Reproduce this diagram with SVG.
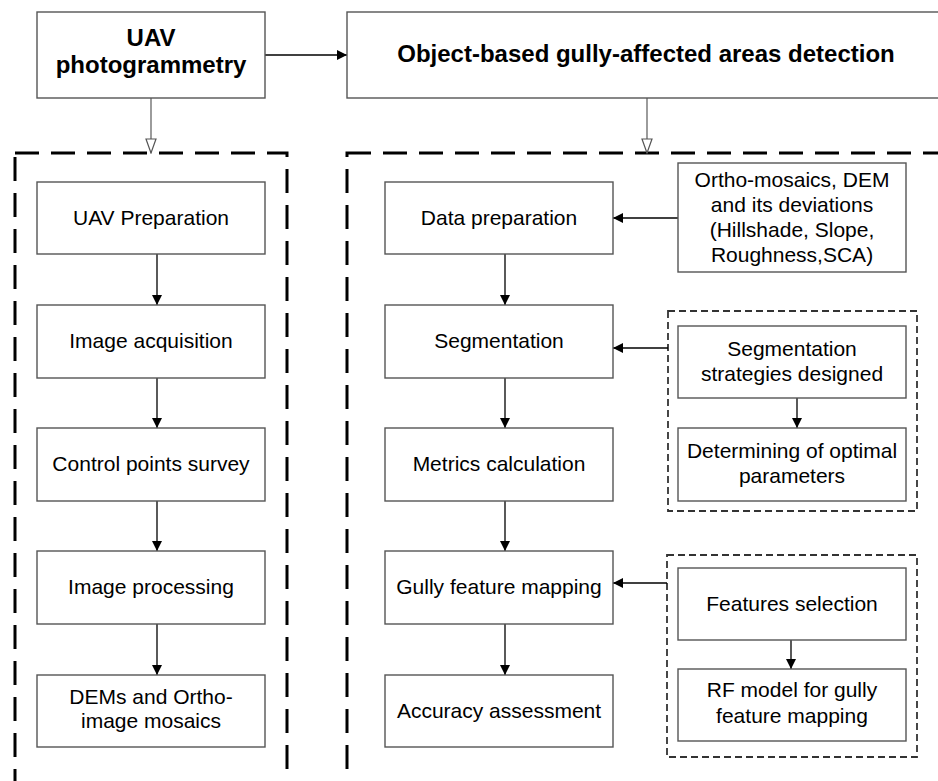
<svg xmlns="http://www.w3.org/2000/svg" width="938" height="781" viewBox="0 0 938 781">
  <style>
    .box { fill: #fff; stroke: #555; stroke-width: 1.4; }
    .grp { fill: none; stroke: #000; stroke-width: 3; stroke-dasharray: 24 12; }
    .sub { fill: none; stroke: #333; stroke-width: 1.8; stroke-dasharray: 7 4; }
    .lbl { font-family: "Liberation Sans", Arial, sans-serif; font-size: 21px; fill: #000; text-anchor: middle; }
    .ttl { font-family: "Liberation Sans", Arial, sans-serif; font-size: 24px; font-weight: bold; fill: #000; text-anchor: middle; }
    .con { fill: none; stroke: #000; stroke-width: 1.3; }
    .inh { fill: none; stroke: #666; stroke-width: 1.3; }
  </style>
  <defs>
    <marker id="arrow" viewBox="0 0 10 10" refX="10" refY="5" markerWidth="10" markerHeight="10" markerUnits="userSpaceOnUse" orient="auto">
      <path d="M0,0 L10,5 L0,10 Z" fill="#000"/>
    </marker>
    <marker id="hollow" viewBox="0 0 16 12" refX="15" refY="6" markerWidth="16" markerHeight="12" markerUnits="userSpaceOnUse" orient="auto">
      <path d="M1,1 L15,6 L1,11 Z" fill="#fff" stroke="#555" stroke-width="1.2"/>
    </marker>
  </defs>
  <rect width="938" height="781" fill="#fff"/>

  <!-- group frames -->
  <g id="frames">
    <rect class="grp" x="15" y="153" width="272" height="660"/>
    <rect class="grp" x="347" y="153" width="620" height="660"/>
    <rect class="sub" x="668" y="311" width="249" height="200"/>
    <rect class="sub" x="667" y="555" width="250" height="202"/>
  </g>

  <!-- connectors -->
  <g id="connectors">
    <line class="con" x1="265" y1="55" x2="347" y2="55" marker-end="url(#arrow)"/>
    <line class="inh" x1="151" y1="98" x2="151" y2="153" marker-end="url(#hollow)"/>
    <line class="inh" x1="647" y1="98" x2="647" y2="153" marker-end="url(#hollow)"/>

    <line class="con" x1="157" y1="254" x2="157" y2="305" marker-end="url(#arrow)"/>
    <line class="con" x1="157" y1="378" x2="157" y2="428" marker-end="url(#arrow)"/>
    <line class="con" x1="157" y1="501" x2="157" y2="551" marker-end="url(#arrow)"/>
    <line class="con" x1="157" y1="624" x2="157" y2="675" marker-end="url(#arrow)"/>

    <line class="con" x1="505" y1="254" x2="505" y2="305" marker-end="url(#arrow)"/>
    <line class="con" x1="505" y1="378" x2="505" y2="428" marker-end="url(#arrow)"/>
    <line class="con" x1="505" y1="501" x2="505" y2="551" marker-end="url(#arrow)"/>
    <line class="con" x1="505" y1="624" x2="505" y2="675" marker-end="url(#arrow)"/>

    <line class="con" x1="678" y1="218" x2="613" y2="218" marker-end="url(#arrow)"/>
    <line class="con" x1="668" y1="348" x2="613" y2="348" marker-end="url(#arrow)"/>
    <line class="con" x1="667" y1="583" x2="613" y2="583" marker-end="url(#arrow)"/>

    <line class="con" x1="797" y1="398" x2="797" y2="428" marker-end="url(#arrow)"/>
    <line class="con" x1="791" y1="640" x2="791" y2="669" marker-end="url(#arrow)"/>
  </g>

  <!-- top-level nodes -->
  <g id="uav-photogrammetry">
    <rect class="box" x="37" y="12" width="228" height="86"/>
    <text class="ttl" x="151" y="46">UAV</text>
    <text class="ttl" x="151" y="73">photogrammetry</text>
  </g>
  <g id="object-based-detection">
    <rect class="box" x="347" y="12" width="620" height="86"/>
    <text class="ttl" x="646" y="62">Object-based gully-affected areas detection</text>
  </g>

  <!-- left column -->
  <g id="uav-preparation">
    <rect class="box" x="37" y="182" width="228" height="72"/>
    <text class="lbl" x="151" y="225">UAV Preparation</text>
  </g>
  <g id="image-acquisition">
    <rect class="box" x="37" y="305" width="228" height="73"/>
    <text class="lbl" x="151" y="348">Image acquisition</text>
  </g>
  <g id="control-points-survey">
    <rect class="box" x="37" y="428" width="228" height="73"/>
    <text class="lbl" x="151" y="471">Control points survey</text>
  </g>
  <g id="image-processing">
    <rect class="box" x="37" y="551" width="228" height="73"/>
    <text class="lbl" x="151" y="594">Image processing</text>
  </g>
  <g id="dems-orthomosaics">
    <rect class="box" x="37" y="675" width="228" height="72"/>
    <text class="lbl" x="151" y="704">DEMs and Ortho-</text>
    <text class="lbl" x="151" y="728">image mosaics</text>
  </g>

  <!-- right column -->
  <g id="data-preparation">
    <rect class="box" x="385" y="182" width="228" height="72"/>
    <text class="lbl" x="499" y="225">Data preparation</text>
  </g>
  <g id="segmentation">
    <rect class="box" x="385" y="305" width="228" height="73"/>
    <text class="lbl" x="499" y="348">Segmentation</text>
  </g>
  <g id="metrics-calculation">
    <rect class="box" x="385" y="428" width="228" height="73"/>
    <text class="lbl" x="499" y="471">Metrics calculation</text>
  </g>
  <g id="gully-feature-mapping">
    <rect class="box" x="385" y="551" width="228" height="73"/>
    <text class="lbl" x="499" y="594">Gully feature mapping</text>
  </g>
  <g id="accuracy-assessment">
    <rect class="box" x="385" y="675" width="228" height="72"/>
    <text class="lbl" x="499" y="718">Accuracy assessment</text>
  </g>

  <!-- inputs -->
  <g id="ortho-dem-inputs">
    <rect class="box" x="678" y="163" width="228" height="109"/>
    <text class="lbl" x="792" y="187">Ortho-mosaics, DEM</text>
    <text class="lbl" x="792" y="212">and its deviations</text>
    <text class="lbl" x="792" y="237">(Hillshade, Slope,</text>
    <text class="lbl" x="792" y="262">Roughness,SCA)</text>
  </g>
  <g id="segmentation-strategies">
    <rect class="box" x="678" y="326" width="228" height="72"/>
    <text class="lbl" x="792" y="356">Segmentation</text>
    <text class="lbl" x="792" y="381">strategies designed</text>
  </g>
  <g id="optimal-parameters">
    <rect class="box" x="678" y="428" width="228" height="73"/>
    <text class="lbl" x="792" y="458">Determining of optimal</text>
    <text class="lbl" x="792" y="483">parameters</text>
  </g>
  <g id="features-selection">
    <rect class="box" x="678" y="568" width="228" height="72"/>
    <text class="lbl" x="792" y="611">Features selection</text>
  </g>
  <g id="rf-model">
    <rect class="box" x="678" y="669" width="228" height="72"/>
    <text class="lbl" x="792" y="697">RF model for gully</text>
    <text class="lbl" x="792" y="723">feature mapping</text>
  </g>
</svg>
